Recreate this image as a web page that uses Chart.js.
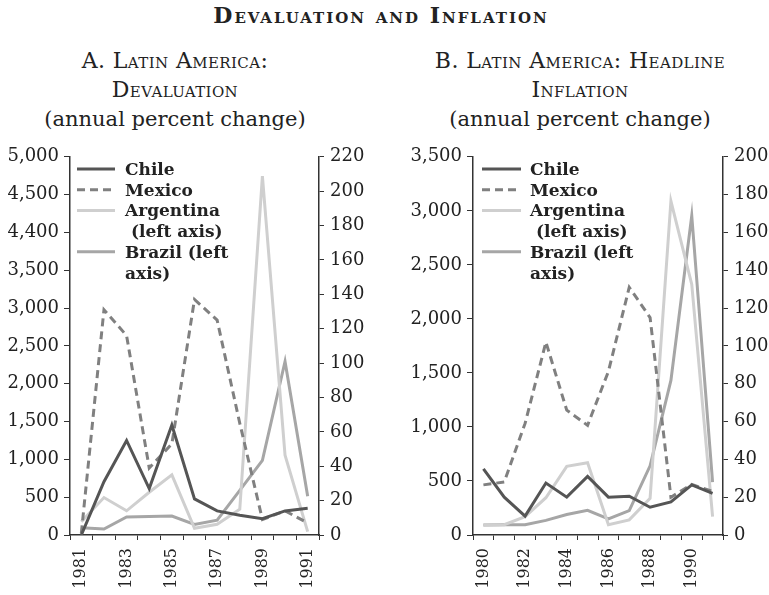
<!DOCTYPE html>
<html>
<head>
<meta charset="utf-8">
<script src="https://cdn.jsdelivr.net/npm/chart.js@4.4.1/dist/chart.umd.min.js"></script>
<style>
  body { margin:0; background:#fff; width:769px; height:595px; position:relative; overflow:hidden; font-family:"DejaVu Serif", serif; color:#222; }
  .ttl { position:absolute; white-space:nowrap; text-align:center; font-variant:small-caps; }
  #main { left:131px; width:500px; top:4px; font-size:22px; font-weight:bold; line-height:22px; letter-spacing:2px; }
  .sub { width:380px; top:46px; font-size:22px; line-height:29px; letter-spacing:0.4px; }
  #subA { left:-15px; }
  #subB { left:390px; }
  .sub .lc { font-variant:normal; font-size:21px; letter-spacing:0; }
  canvas { position:absolute; top:140px; }
  #chartA { left:0; }
  #chartB { left:385px; }
</style>
</head>
<body>
<div class="ttl" id="main">Devaluation and Inflation</div>
<div class="ttl sub" id="subA">A. Latin America:<br>Devaluation<br><span class="lc">(annual percent change)</span></div>
<div class="ttl sub" id="subB">B. Latin America: Headline<br>Inflation<br><span class="lc">(annual percent change)</span></div>
<canvas id="chartA" width="380" height="455"></canvas>
<canvas id="chartB" width="384" height="455"></canvas>
<script>
// panel A: devaluation
var yearsA = ['1981','1982','1983','1984','1985','1986','1987','1988','1989','1990','1991'];
var chileDev = [0, 31, 55, 27, 64, 21, 14, 11.5, 9.5, 14, 15.5];
var mexicoDev = [1, 131, 116, 39, 53, 137, 125, 65, 9, 14, 7];
var argentinaDev = [175, 495, 320, 565, 795, 88, 141, 340, 4745, 1055, 45];
var brazilDev = [95, 78, 238, 243, 250, 140, 197, 590, 987, 2294, 513];
var leftTicksA = ['0','500','1,000','1,500','2,000','2,500','3,000','3,500','4,400','4,500','5,000'];
var rightTicksA = ['0','20','40','60','80','100','120','140','160','180','200','220'];

// panel B: headline inflation
var yearsB = ['1980','1981','1982','1983','1984','1985','1986','1987','1988','1989','1990','1991'];
var chileInf = [35, 20, 10, 27.5, 20, 31, 20, 20.5, 14.7, 17.5, 26.5, 22];
var mexicoInf = [26.5, 28, 59, 102, 66, 58, 86.5, 131, 115, 20, 26.7, 23];
var argentinaInf = [92, 95, 170, 345, 635, 668, 95, 140, 340, 3090, 2320, 170];
var brazilInf = [92, 95, 95, 135, 190, 228, 150, 226, 640, 1430, 2955, 490];
var leftTicksB = ['0','500','1,000','1,500','2,000','2,500','3,000','3,500'];
var rightTicksB = ['0','20','40','60','80','100','120','140','160','180','200'];

var legendLines = [['Chile'], ['Mexico'], ['Argentina', ' (left axis)'], ['Brazil (left', 'axis)']];

var axisColor = '#333';
var tickFont = { family: 'DejaVu Serif', size: 18 };

// draws the legend inside the plot, with wrapped labels
var sideLegend = {
    id: 'sideLegend',
    afterDraw: function(chart, args, opts) {
        var ctx = chart.ctx;
        ctx.save();
        ctx.font = 'bold 17px "DejaVu Serif"';
        ctx.fillStyle = '#222';
        ctx.textBaseline = 'alphabetic';
        var row = 0;
        chart.data.datasets.forEach(function(ds, i) {
            var y = opts.top + row * opts.lineHeight;
            ctx.strokeStyle = ds.borderColor;
            ctx.lineWidth = ds.borderWidth;
            ctx.setLineDash(ds.borderDash || []);
            ctx.beginPath();
            ctx.moveTo(opts.x0, y - 6);
            ctx.lineTo(opts.x1, y - 6);
            ctx.stroke();
            legendLines[i].forEach(function(s, j) {
                ctx.fillText(s, opts.textX, y + j * opts.lineHeight);
            });
            row += legendLines[i].length;
        });
        ctx.restore();
    }
};

function series(chile, mexico, argentina, brazil) {
    return [
        { label: 'Chile', data: chile, yAxisID: 'yR', borderColor: '#555555', borderWidth: 3 },
        { label: 'Mexico', data: mexico, yAxisID: 'yR', borderColor: '#808080', borderWidth: 3, borderDash: [8, 5] },
        { label: 'Argentina (left axis)', data: argentina, yAxisID: 'yL', borderColor: '#cfcfcf', borderWidth: 3 },
        { label: 'Brazil (left axis)', data: brazil, yAxisID: 'yL', borderColor: '#a6a6a6', borderWidth: 3 }
    ];
}

function scales(leftMax, leftStep, leftTicks, rightMax, rightTicks, leftW, rightW) {
    return {
        x: {
            offset: true,
            grid: { offset: true, drawOnChartArea: false, tickLength: 5, color: axisColor },
            border: { color: axisColor, width: 1.5 },
            ticks: {
                autoSkip: false, minRotation: 90, maxRotation: 90, padding: 8, color: '#222',
                font: { family: 'DejaVu Serif', size: 16 },
                callback: function(v, i) { return i % 2 === 0 ? this.getLabelForValue(v) : ''; }
            },
            afterFit: function(s) { s.height = 60; }
        },
        yL: {
            position: 'left', min: 0, max: leftMax,
            grid: { drawOnChartArea: false, tickLength: 6, color: axisColor },
            border: { color: axisColor, width: 1.5 },
            ticks: { stepSize: leftStep, padding: 5, color: '#222', font: tickFont,
                callback: function(v, i) { return leftTicks[i]; } },
            afterFit: function(s) { s.width = leftW; }
        },
        yR: {
            position: 'right', min: 0, max: rightMax,
            grid: { drawOnChartArea: false, tickLength: 5, color: axisColor },
            border: { color: axisColor, width: 1.5 },
            ticks: { stepSize: 20, padding: 6, color: '#222', font: tickFont,
                callback: function(v, i) { return rightTicks[i]; } },
            afterFit: function(s) { s.width = rightW; }
        }
    };
}

function makeChart(id, years, data, sc, leg, padTop) {
    return new Chart(document.getElementById(id), {
        type: 'line',
        data: { labels: years, datasets: data },
        options: {
            responsive: false,
            animation: false,
            layout: { padding: { top: padTop } },
            elements: { line: { tension: 0 }, point: { radius: 0 } },
            plugins: { legend: { display: false }, tooltip: { enabled: false }, sideLegend: leg },
            scales: sc
        },
        plugins: [sideLegend]
    });
}

makeChart('chartA', yearsA, series(chileDev, mexicoDev, argentinaDev, brazilDev),
    scales(5000, 500, leftTicksA, 220, rightTicksA, 70, 61),
    { x0: 77, x1: 115, textX: 125, top: 35, lineHeight: 20.7 }, 15);

makeChart('chartB', yearsB, series(chileInf, mexicoInf, argentinaInf, brazilInf),
    scales(3500, 500, leftTicksB, 200, rightTicksB, 88, 46),
    { x0: 97, x1: 136, textX: 145, top: 35, lineHeight: 20.7 }, 16);
</script>
</body>
</html>
